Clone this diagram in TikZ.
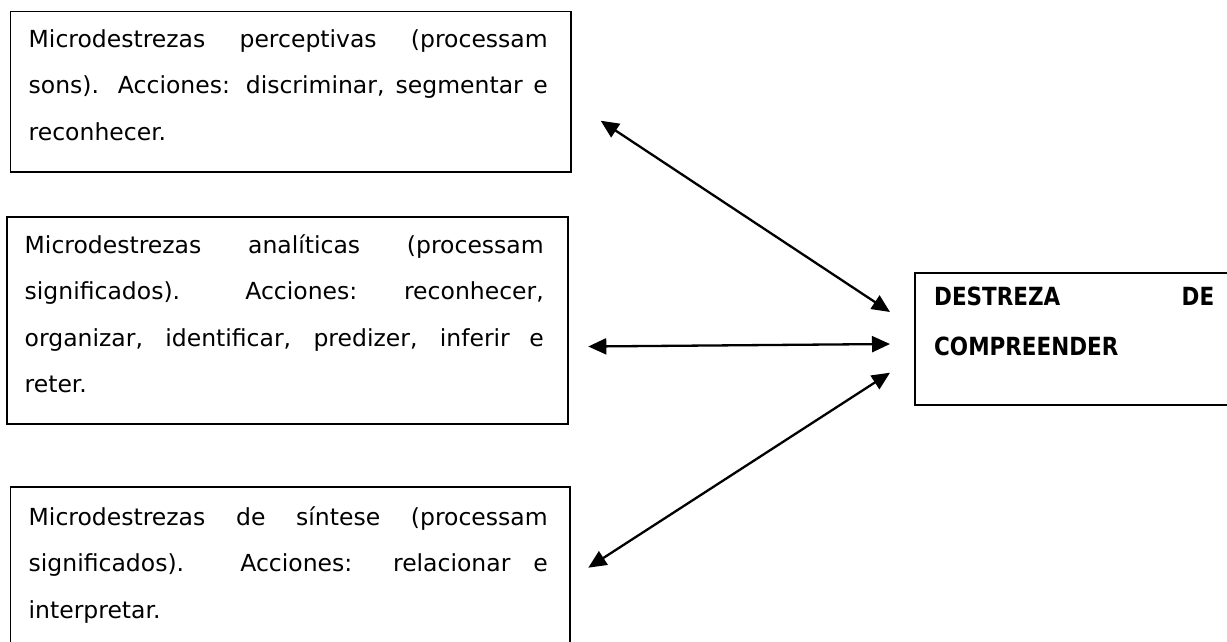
\documentclass[tikz,border=0pt]{standalone}
\usepackage{fontspec}
\setmainfont{DejaVu Sans}[BoldFeatures={FakeStretch=0.86}]
\usetikzlibrary{arrows.meta}
\tikzset{
  box/.style={draw, line width=1.6pt, anchor=north west, inner sep=0pt},
  ln/.style={anchor=base west, inner sep=0pt, font=\fontsize{23.5}{28}\selectfont},
  bln/.style={ln, font=\fontsize{25}{30}\selectfont\bfseries},
  link/.style={line width=2.3pt, {Triangle[length=18pt,width=16pt]}-{Triangle[length=18pt,width=16pt]}}
}
\newcommand{\jl}[2]{\makebox[#1][s]{#2}}
\begin{document}
\begin{tikzpicture}[x=1pt,y=-1pt]
\useasboundingbox (0,0) rectangle (1227,641);
\clip (0,0) rectangle (1227,641);
% boxes
\node[box, minimum width=560.5pt, minimum height=160.5pt] (b1) at (9.5,10.5) {};
\node[box, minimum width=561pt, minimum height=207pt] (b2) at (6,216) {};
\node[box, minimum width=559.5pt, minimum height=200pt] (b3) at (9.5,486) {};
\node[box, minimum width=330pt, minimum height=132pt] (b4) at (914,272) {};
% box 1 text
\node[ln] (t11) at (28.5,47) {\jl{519pt}{Microdestrezas perceptivas (processam}};
\node[ln] (t12) at (28.5,93.5) {\jl{519pt}{sons). Acciones: discriminar, segmentar e}};
\node[ln] (t13) at (28.5,140) {reconhecer.};
% box 2 text
\node[ln] (t21) at (24.5,253) {\jl{519pt}{Microdestrezas analíticas (processam}};
\node[ln] (t22) at (24.5,299.5) {\jl{519pt}{significados). Acciones: reconhecer,}};
\node[ln] (t23) at (24.5,346) {\jl{519pt}{organizar, identificar, predizer, inferir e}};
\node[ln] (t24) at (24.5,392.5) {reter.};
% box 3 text
\node[ln] (t31) at (28.5,525) {\jl{519pt}{Microdestrezas de síntese (processam}};
\node[ln] (t32) at (28.5,571.5) {\jl{519pt}{significados). Acciones: relacionar e}};
\node[ln] (t33) at (28.5,618) {interpretar.};
% box 4 text
\node[bln] (t41) at (934,305) {\jl{280pt}{DESTREZA DE}};
\node[bln] (t42) at (934,355) {COMPREENDER};
% arrows
\coordinate (a1s) at (600.7,120.7);
\coordinate (a1e) at (890,312);
\coordinate (a2s) at (588.3,346.5);
\coordinate (a2e) at (890,344);
\coordinate (a3s) at (588.3,567.7);
\coordinate (a3e) at (890,372.7);
\draw[link] (a1s) -- (a1e);
\draw[link] (a2s) -- (a2e);
\draw[link] (a3s) -- (a3e);
\end{tikzpicture}
\end{document}
